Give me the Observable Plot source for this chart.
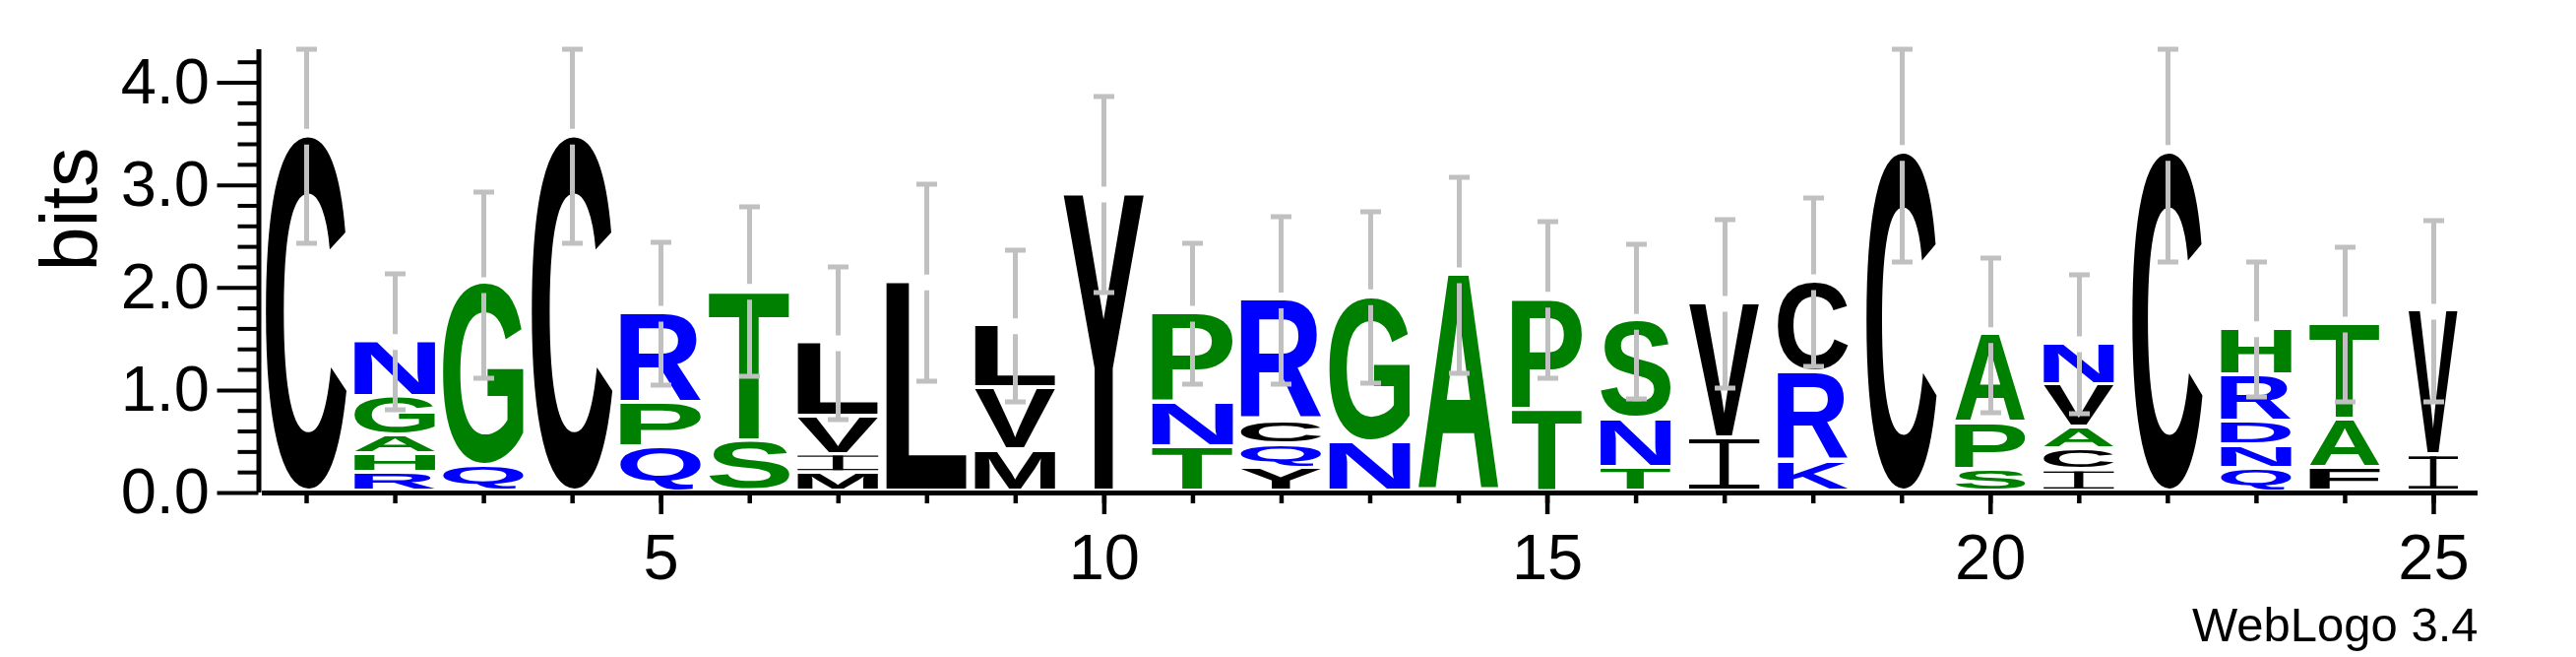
<!DOCTYPE html>
<html>
<head>
<meta charset="utf-8">
<script src="https://cdn.jsdelivr.net/npm/d3@7"></script>
<script src="https://cdn.jsdelivr.net/npm/@observablehq/plot@0.6"></script>
<style>
  html, body { margin: 0; padding: 0; background: #fff; }
  svg { display: block; }
</style>
</head>
<body>
<div id="chart"></div>
<script>
const positions = d3.range(1, 26);
// letters of each stack, listed from top to bottom
const stackLetters = ["C","NGAHR","GQ","C","RPQ","TS","LVIM","L","LVM","Y","PNT","RCQY","GN","A","PT","SNT","VI","CRK","C","APS","NVACI","C","HRDNQ","TAF","VI"];
// information (bits) of each letter, same order
const stackHeights = [
  [3.47],
  [0.543, 0.384, 0.18, 0.18, 0.18],
  [1.782, 0.24],
  [3.47],
  [0.884, 0.43, 0.43],
  [1.468, 0.489],
  [0.727, 0.368, 0.18, 0.18],
  [2.047],
  [0.614, 0.607, 0.40],
  [2.905],
  [0.88, 0.432, 0.432],
  [1.183, 0.23, 0.23, 0.23],
  [1.423, 0.48],
  [2.118],
  [1.081, 0.80],
  [0.96, 0.473, 0.23],
  [1.322, 0.518],
  [0.89, 0.87, 0.29],
  [3.311],
  [0.873, 0.454, 0.208],
  [0.413, 0.413, 0.21, 0.205, 0.205],
  [3.311],
  [0.458, 0.454, 0.228, 0.228, 0.224],
  [0.941, 0.467, 0.23],
  [1.411, 0.352]
];
// error bar half-widths (bits)
const errors = [1.04,0.664,0.904,1.04,0.699,0.824,0.744,0.963,0.739,0.96,0.684,0.812,0.835,0.96,0.763,0.755,0.819,0.819,1.062,0.755,0.676,1.062,0.657,0.751,0.883];
// visible stack width as a fraction of the full width
const widthFraction = [1,1,1,1,1,1,1,1,1,1,1,1,1,1,0.87,0.87,0.87,0.87,0.87,0.87,0.87,0.87,0.87,0.87,0.61];
const yMajorTicks = [0, 1, 2, 3, 4];
const yMinorTicks = [0.2,0.4,0.6,0.8,1.2,1.4,1.6,1.8,2.2,2.4,2.6,2.8,3.2,3.4,3.6,3.8,4.2];
const xMajorTicks = [5, 10, 15, 20, 25];
const maxBits = Math.log2(20);
// hydrophobicity colour scheme
const hydrophilic = "RKDENQ", neutral = "SGHTAP", hydrophobic = "YVMCLFIW";
const schemeColors = {hydrophilic: "#0000ff", neutral: "#008000", hydrophobic: "#000000"};
function letterColor(ch) {
  if (hydrophilic.includes(ch)) return schemeColors.hydrophilic;
  if (neutral.includes(ch)) return schemeColors.neutral;
  return schemeColors.hydrophobic;
}

// ---- derived tables ----
const rows = [];
const stacks = [];
positions.forEach((p, i) => {
  const ls = stackLetters[i].split("");
  const hs = stackHeights[i];
  let cum = 0;
  for (let j = ls.length - 1; j >= 0; --j) {
    rows.push({pos: p, letter: ls[j], y0: cum, y1: cum + hs[j], wf: widthFraction[i]});
    cum += hs[j];
  }
  stacks.push({pos: p, total: cum, err: errors[i]});
});

const FONT = "'Liberation Sans', Arial, Helvetica, sans-serif";
const measureCanvas = document.createElement("canvas").getContext("2d");
measureCanvas.font = "bold 200px 'Liberation Sans', Arial, sans-serif";
measureCanvas.textAlign = "left";
measureCanvas.textBaseline = "alphabetic";
const metricCache = {};
function glyphMetrics(ch) {
  if (!metricCache[ch]) {
    const m = measureCanvas.measureText(ch);
    metricCache[ch] = {
      left: m.actualBoundingBoxLeft, right: m.actualBoundingBoxRight,
      asc: m.actualBoundingBoxAscent, desc: m.actualBoundingBoxDescent
    };
  }
  return metricCache[ch];
}

const SVGNS = "http://www.w3.org/2000/svg";
function el(doc, name, attrs) {
  const e = doc.createElementNS(SVGNS, name);
  for (const k in attrs) e.setAttribute(k, attrs[k]);
  return e;
}

// letters mark: each glyph stretched into its band using the x and y scales
function lettersMark(index, scales, values, dimensions, context) {
  const doc = context.document;
  const g = el(doc, "g", {"text-anchor": "start"});
  const step = scales.x(2) - scales.x(1);
  const fullW = step * 0.91;
  const gapBelow = 4;
  for (const r of rows) {
    const cx = scales.x(r.pos);
    const w = fullW * r.wf;
    const top = scales.y(r.y1);
    const bot = scales.y(r.y0) - gapBelow;
    const h = bot - top;
    if (h <= 0.5) continue;
    const color = letterColor(r.letter);
    const left = cx - w / 2;
    if (r.letter === "I") {
      const bar = Math.max(1, 0.08 * h);
      const stem = 0.13 * w;
      g.appendChild(el(doc, "rect", {x: left, y: top, width: w, height: bar, fill: color}));
      g.appendChild(el(doc, "rect", {x: left, y: bot - bar, width: w, height: bar, fill: color}));
      g.appendChild(el(doc, "rect", {x: cx - stem / 2, y: top, width: stem, height: h, fill: color}));
      continue;
    }
    const m = glyphMetrics(r.letter);
    const gw = m.left + m.right, gh = m.asc + m.desc;
    const sx = w / gw, sy = h / gh;
    const t = el(doc, "text", {
      x: 0, y: 0,
      "text-anchor": "start",
      "font-family": FONT, "font-weight": "bold", "font-size": 200,
      fill: color,
      transform: `translate(${left},${bot}) scale(${sx},${sy}) translate(${m.left},${-m.desc})`
    });
    t.textContent = r.letter;
    g.appendChild(t);
  }
  return g;
}

// error bars drawn on top of the stacks, with a gap around the stack top
function errorBarsMark(index, scales, values, dimensions, context) {
  const doc = context.document;
  const g = el(doc, "g", {stroke: "#c0c0c0", "stroke-width": 5, fill: "none", "stroke-linecap": "butt"});
  const capHalf = 10.5, gap = 8;
  for (const s of stacks) {
    const cx = Math.round(scales.x(s.pos)) + 0.5;
    const yt = scales.y(s.total);
    const yh = Math.round(scales.y(Math.min(s.total + s.err, maxBits)));
    const yl = Math.round(scales.y(Math.max(s.total - s.err, 0)));
    const d = `M${cx},${yh}V${yt - gap}M${cx},${yt + gap}V${yl}` +
              `M${cx - capHalf},${yh}H${cx + capHalf}M${cx - capHalf},${yl}H${cx + capHalf}`;
    g.appendChild(el(doc, "path", {d}));
  }
  return g;
}

const chart = Plot.plot({
  width: 2617,
  height: 667,
  marginLeft: 266,
  marginRight: 100,
  marginTop: 50,
  marginBottom: 167,
  x: {domain: [0.5, 25.5]},
  y: {domain: [0, maxBits]},
  style: {fontFamily: FONT, background: "#fff", color: "#000", overflow: "visible"},
  marks: [
    lettersMark,
    errorBarsMark,
    Plot.ruleY([0], {strokeWidth: 5}),
    Plot.ruleX([0.5], {dx: -3.5, strokeWidth: 5}),
    Plot.axisY(yMinorTicks, {tickSize: 21, tickFormat: () => "", strokeWidth: 4, dx: -3.5, label: null}),
    Plot.axisY(yMajorTicks, {tickSize: 42, tickPadding: 8, tickFormat: d3.format(".1f"), fontSize: 65, strokeWidth: 4, dx: -3.5, label: null}),
    Plot.axisX(positions, {tickSize: 11, tickFormat: () => "", strokeWidth: 4.5, label: null}),
    Plot.axisX(xMajorTicks, {tickSize: 22, tickPadding: 19, fontSize: 65, strokeWidth: 4.5, label: null}),
    Plot.text(["bits"], {frameAnchor: "left", rotate: -90, dx: -194, fontSize: 81}),
    Plot.text(["WebLogo 3.4"], {frameAnchor: "bottom-right", textAnchor: "end", lineAnchor: "top", dy: 116, fontSize: 49})
  ]
});
document.getElementById("chart").appendChild(chart);
</script>
</body>
</html>
